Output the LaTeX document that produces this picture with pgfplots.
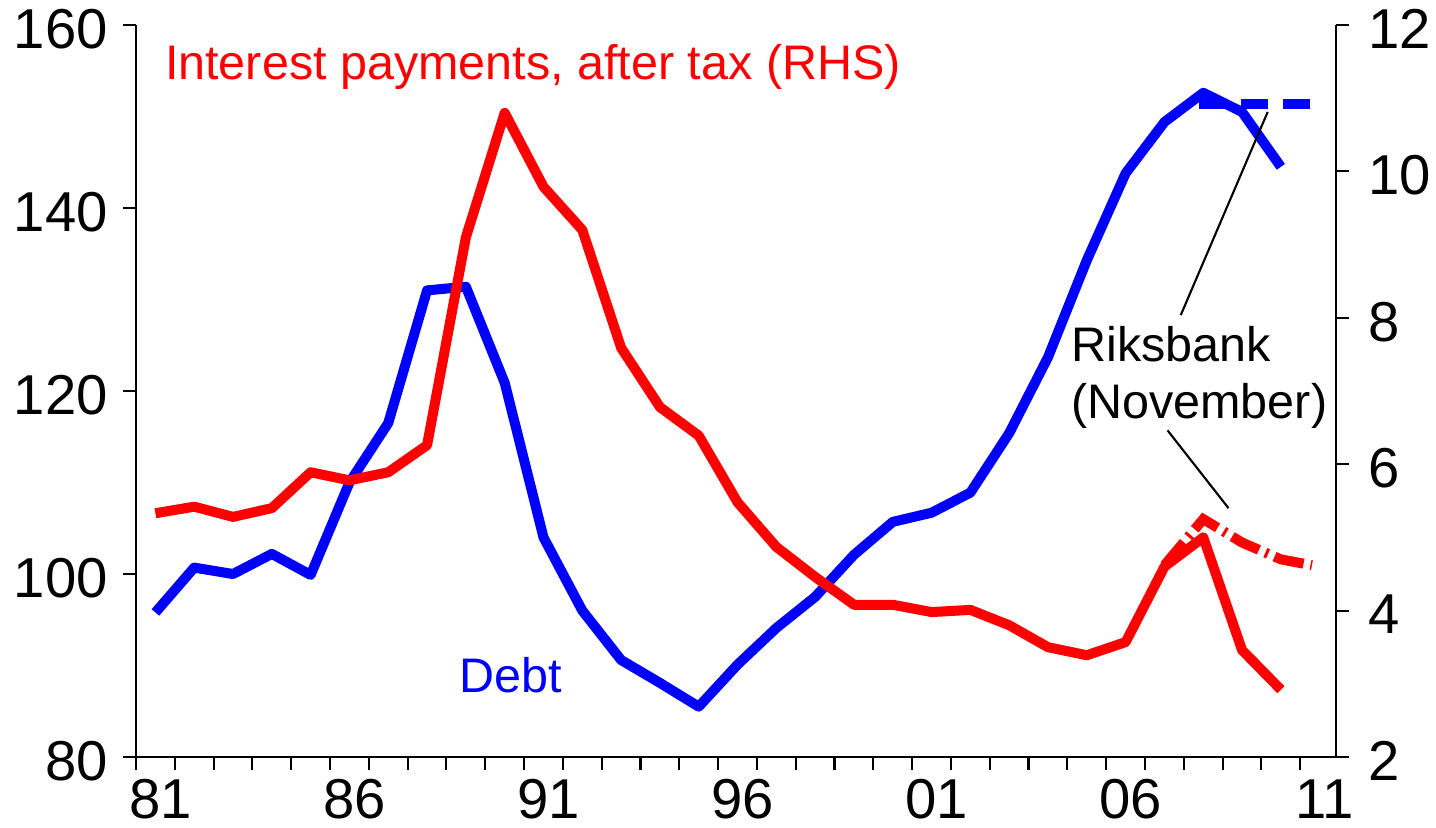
\documentclass[border=0pt]{standalone}
\usepackage{fontspec}
\setmainfont{Liberation Sans}
\usepackage{pgfplots}
\usepackage{pgfplotstable}
\pgfplotsset{compat=1.18}

\definecolor{debtblue}{RGB}{0,0,255}
\definecolor{intred}{RGB}{255,0,0}

% household debt, % of disposable income (LHS)
\pgfplotstableread{
year val
1981 95.8
1982 100.7
1983 100.0
1984 102.2
1985 99.9
1986 110.0
1987 116.5
1988 131.0
1989 131.4
1990 120.9
1991 104.0
1992 96.0
1993 90.6
1994 88.1
1995 85.5
1996 90.1
1997 94.1
1998 97.5
1999 102.1
2000 105.7
2001 106.7
2002 108.9
2003 115.4
2004 123.7
2005 134.3
2006 143.8
2007 149.4
2008 152.6
2009 150.5
2010 144.5
}\debt

% interest payments after tax (RHS)
\pgfplotstableread{
year val
1981 5.33
1982 5.42
1983 5.28
1984 5.40
1985 5.89
1986 5.78
1987 5.89
1988 6.26
1989 9.10
1990 10.80
1991 9.79
1992 9.20
1993 7.59
1994 6.78
1995 6.39
1996 5.48
1997 4.87
1998 4.46
1999 4.08
2000 4.08
2001 3.98
2002 4.01
2003 3.80
2004 3.50
2005 3.39
2006 3.57
2007 4.60
2008 5.00
2009 3.46
2010 2.92
}\interest

\begin{document}
\begin{tikzpicture}
\pgfplotsset{
  every axis/.append style={
    scale only axis, width=120mm, height=73.2mm,
    xmin=1980.5, xmax=2011.42,
    font=\fontsize{13.8}{16}\selectfont,
    tick label style={font=\fontsize{16}{19}\selectfont},
    tick align=outside,
    axis line style={-, line width=0.6pt},
    tick style={black, line width=0.6pt},
    major tick length=1.3mm,
    /pgf/number format/assume math mode=true,
  }
}
\begin{axis}[
  axis x line*=bottom, axis y line*=left,
  ymin=80, ymax=160, ytick={80,100,...,160},
  xtick={1980.5,1981.5,...,2010.5}, xticklabels={},
  extra x ticks={1981,1986,...,2011},
  extra x tick labels={81,86,91,96,01,06,11},
  extra x tick style={major tick length=0pt},
  xticklabel style={yshift=-1.0mm, xshift=0.5mm},
  yticklabel style={xshift=-0.3mm, yshift=-0.4mm},
]
\addplot[debtblue, line width=1mm, line join=round] table[x=year, y=val] {\debt};
\addplot[debtblue, line width=1mm, dash pattern=on 2.7mm off 1.5mm] coordinates {(2007.9,151.4) (2010.8,151.4)};
\node[intred, anchor=base west, inner sep=0pt] at (axis cs:1981.23,154.0) {Interest payments, after tax (RHS)};
\node[debtblue, anchor=base west, inner sep=0pt] at (axis cs:1988.81,87.0) {Debt};
\node[anchor=base west, inner sep=0pt] at (axis cs:2004.58,123.2) {Riksbank};
\node[anchor=base west, inner sep=0pt] at (axis cs:2004.58,117.05) {(November)};
\draw[line width=0.6pt] (axis cs:2007.42,128.3) -- (axis cs:2009.66,150.5);
\draw[line width=0.6pt] (axis cs:2007.08,115.7) -- (axis cs:2008.65,107.2);
\end{axis}
\begin{axis}[
  axis y line*=right, axis x line=none,
  ymin=2, ymax=12, ytick={2,4,...,12},
  yticklabel style={xshift=0.7mm, yshift=-0.4mm},
]
\addplot[intred, line width=1mm, line join=round] table[x=year, y=val] {\interest};
\addplot[intred, line width=1mm, dash pattern=on 3mm off 0.7mm on 0.3mm off 0.7mm] coordinates {(2007,4.62) (2008,5.25) (2009,4.93) (2010,4.70) (2010.8,4.62)};
\end{axis}
\pgfresetboundingbox
\useasboundingbox (-13.6mm,-7.0mm) rectangle (130mm,75.7mm);
\end{tikzpicture}
\end{document}
